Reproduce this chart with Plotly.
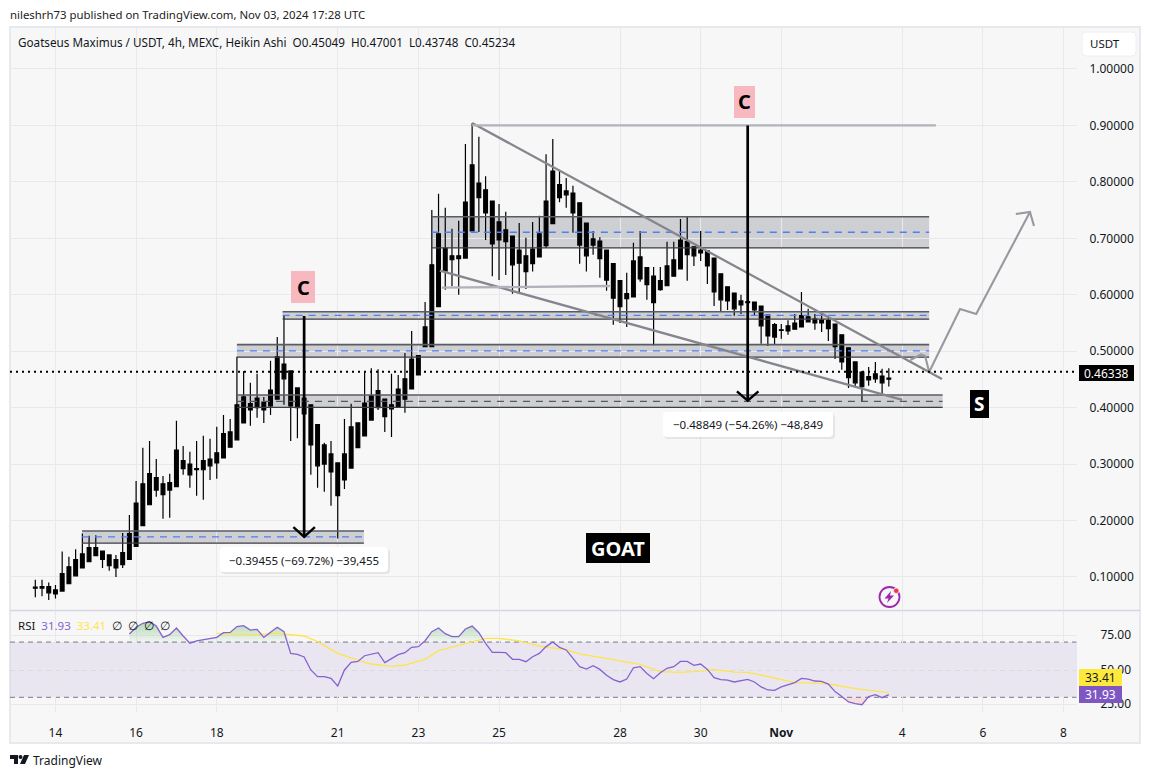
import pandas as pd
import plotly.graph_objects as go

# ---------- candle data (Heikin Ashi, all drawn black) ----------
highs = [.095,.095,.090,.086,.145,.136,.149,.177,.173,.174,
 .146,.139,.139,.178,.210,.270,.329,.341,.309,.279,
 .283,.377,.332,.322,.341,.350,.345,.366,.387,.380,
 .490,.465,.444,.460,.419,.483,.525,.564,.465,.435,
 .435,.405,.370,.338,.341,.302,.380,.407,.373,.465,
 .470,.468,.415,.460,.458,.497,.536,.492,.587,.750,
 .779,.754,.717,.731,.867,.904,.880,.810,.766,.761,
 .747,.704,.727,.701,.729,.740,.849,.876,.821,.807,
 .793,.763,.727,.713,.702,.679,.655,.625,.639,.692,
 .713,.648,.649,.649,.694,.694,.734,.738,.685,.713,
 .678,.665,.637,.614,.603,.600,.600,.587,.580,.564,
 .550,.548,.555,.566,.605,.575,.566,.568,.563,.548,
 .529,.506,.481,.465,.472,.481,.469,.47001]
closes = [.082,.083,.083,.077,.106,.118,.131,.141,.152,.152,
 .146,.139,.131,.143,.177,.231,.265,.283,.276,.265,
 .267,.325,.306,.300,.292,.306,.309,.320,.354,.357,
 .405,.419,.407,.417,.410,.431,.490,.477,.465,.435,
 .417,.405,.370,.334,.318,.302,.318,.366,.373,.408,
 .421,.430,.415,.405,.433,.451,.486,.492,.543,.653,
 .708,.682,.669,.669,.764,.830,.798,.786,.766,.729,
 .715,.704,.679,.669,.681,.708,.766,.819,.795,.784,
 .780,.763,.727,.699,.695,.679,.655,.625,.602,.660,
 .667,.648,.633,.625,.651,.662,.697,.694,.685,.679,
 .678,.665,.637,.614,.603,.589,.588,.587,.580,.564,
 .547,.538,.545,.550,.563,.561,.557,.555,.554,.548,
 .529,.506,.481,.463,.455,.460,.456,.45234]
opens = [.080,.080,.072,.070,.075,.088,.102,.116,.127,.138,
 .131,.120,.116,.122,.131,.154,.191,.228,.254,.246,
 .254,.260,.292,.281,.290,.290,.297,.302,.311,.330,
 .343,.373,.396,.400,.396,.403,.415,.451,.403,.400,
 .389,.334,.297,.300,.286,.244,.272,.293,.329,.350,
 .378,.400,.384,.398,.401,.415,.433,.458,.508,.508,
 .579,.642,.662,.664,.665,.713,.772,.745,.690,.697,
 .694,.653,.656,.641,.655,.667,.687,.726,.772,.777,
 .745,.688,.669,.688,.664,.626,.594,.579,.593,.596,
 .628,.618,.586,.609,.616,.633,.646,.671,.669,.674,
 .651,.605,.591,.589,.575,.582,.586,.573,.545,.527,
 .525,.537,.536,.539,.543,.552,.550,.550,.540,.508,
 .481,.453,.444,.437,.449,.451,.444,.45049]
lows = [.064,.066,.059,.062,.075,.088,.102,.116,.127,.138,
 .116,.111,.100,.116,.131,.154,.191,.228,.242,.203,
 .205,.260,.281,.258,.244,.237,.272,.274,.311,.330,
 .343,.373,.368,.382,.373,.387,.415,.405,.341,.346,
 .389,.281,.258,.251,.226,.168,.256,.293,.329,.350,
 .378,.396,.357,.348,.401,.391,.433,.458,.508,.508,
 .579,.609,.615,.600,.665,.713,.711,.697,.633,.626,
 .635,.602,.605,.610,.641,.667,.683,.726,.764,.754,
 .710,.655,.641,.671,.630,.607,.547,.550,.543,.596,
 .623,.591,.510,.607,.616,.633,.646,.625,.651,.660,
 .619,.580,.571,.573,.563,.566,.567,.563,.513,.509,
 .511,.522,.529,.538,.543,.552,.538,.534,.518,.486,
 .467,.435,.437,.410,.439,.444,.423,.43748]

# ---------- RSI (starts at bar 14) ----------
rsi_start = 14
rsi_values = [75.8,80.7,83.6,84.8,81.6,73.4,75.4,80.2,74.4,69.1,70.8,71.7,72.2,73.4,76.8,77,81.2,81.9,78.7,79.2,
 73.4,76.8,80.7,77.5,61.8,61.1,59.2,49.8,44.9,44.9,43.7,38.2,49.8,55.3,56,60.1,61.4,62.3,55.1,58,
 60.9,62.3,66.2,66.7,71,77.5,80.2,76.1,73.9,73.9,79.5,81.6,76.8,69.1,62.6,62.6,62.3,57.5,57.5,55.8,
 59.4,61.8,66.7,70,66.2,64.3,58.2,52.2,
 50.5,52.9,50.2,45.9,42.8,41.1,43.2,51.4,52.2,47.3,43.5,47.8,51,52.2,56,56,53.1,54.1,50.2,44.2,42.8,
 42.5,41.1,41.8,43,41.1,37.5,35.3,35,37.5,38.9,40.6,43.7,43.2,41.8,41.5,39.6,34.1,30.5,26.6,25.4,24.6,
 30.5,31.9,29.7,31.93]
rsi_ma_bars = [27,30,33,36,40,42,45,48,50,53,55,58,60,63,67,69,72,75,77,79,81,
 82,87,90,93,96,99,101,104,106,108,111,113,117,119,122,127]
rsi_ma_values = [76.3,75.6,75.4,76.3,74.4,70.3,61.8,57,54.1,52.4,53.4,57.5,63.8,67.6,72.7,72.7,70.8,67.1,65.9,64.3,61.4,
 60.6,56.5,53.9,48.6,48.1,49,50,48.3,48.1,46.1,42.5,40.6,40.3,38.9,36.2,33.41]

# ---------- drawings (bar number, price) ----------
wedge_top_bars, wedge_top_prices = [65, 134.9], [.9043, .4508]
wedge_low_bars, wedge_low_prices = [60.2, 129], [.6427, .4136]
top_level_bars, top_level_prices = [65, 134], [.9, .9]
mid_level_bars, mid_level_prices = [60.5, 85.5], [.6125, .6155]
path_bars, path_prices = [130.2,131.8,132.4,133,137.6,140,148], [.4844,.4942,.4915,.4632,.5748,.5659,.7466]
head_bars, head_prices = [145.9,148,148.6], [.7431,.7466,.7218]
arrow1_bars, arrow1_prices = [40, 40], [.5624, .171]
arrow1_head_bars, arrow1_head_prices = [38.4,40,41.6], [.1885,.171,.1885]
arrow2_bars, arrow2_prices = [106, 106], [.9, .4122]
arrow2_head_bars, arrow2_head_prices = [104.4,106,107.6], [.429,.4122,.429]

# zone: start bar, end bar, low price, high price, mid price, mid colour
zone_starts = [6.95, 30, 36.8, 30, 59]
zone_ends   = [48.9, 133, 133, 135, 133]
zone_lows   = [.160, .4895, .557, .4006, .6829]
zone_highs  = [.1815, .5116, .570, .4224, .7383]
zone_mids   = [.171, .5005, .5636, .411, .7107]
zone_mid_colors = ["#4f7ff0","#4f7ff0","#4f7ff0","#55585f","#4f7ff0"]

last_price = .46338
price_ticks = [.1,.2,.3,.4,.5,.6,.7,.8,.9,1.0]
rsi_ticks = [25,50,75]
date_ticks = ["2024-10-14","2024-10-16","2024-10-18","2024-10-21","2024-10-23","2024-10-25","2024-10-28",
              "2024-10-30","2024-11-01","2024-11-04","2024-11-06","2024-11-08"]
date_labels = ["14","16","18","21","23","25","28","30","<b>Nov</b>","4","6","8"]

# ---------- helpers ----------
W, H = 1150, 777
FONT = "Noto Sans"
t0 = pd.Timestamp("2024-10-13 12:00")
def bar_time(b):
    return t0 + pd.Timedelta(hours=4 * b)
def to_times(bs):
    return [bar_time(b) for b in bs]
def X(px): return px / W
def Y(py): return 1 - py / H

dates = to_times(range(len(closes)))
fig = go.Figure()
fig.add_trace(go.Candlestick(
    x=dates, open=opens, high=highs, low=lows, close=closes, xaxis="x", yaxis="y",
    increasing=dict(line=dict(color="#000000", width=1.2), fillcolor="#000000"),
    decreasing=dict(line=dict(color="#000000", width=1.2), fillcolor="#000000"),
    hoverinfo="skip", showlegend=False))

def line(bs, ps, color, width, dash="solid"):
    fig.add_trace(go.Scatter(x=to_times(bs), y=ps, mode="lines", xaxis="x", yaxis="y",
                             line=dict(color=color, width=width, dash=dash),
                             hoverinfo="skip", showlegend=False))

shapes = []
# frame
shapes.append(dict(type="rect", xref="paper", yref="paper", x0=X(10), x1=X(1140), y0=Y(743), y1=Y(27),
                   fillcolor="#f7f7f7", line=dict(color="#e8e9ef", width=2), layer="below"))
shapes.append(dict(type="line", xref="paper", yref="paper", x0=X(10), x1=X(1140), y0=Y(610.5), y1=Y(610.5),
                   line=dict(color="#d4d7e2", width=1.5), layer="below"))
# zones
for s, e, lo, hi in zip(zone_starts, zone_ends, zone_lows, zone_highs):
    shapes.append(dict(type="rect", xref="x", yref="y", x0=bar_time(s), x1=bar_time(e), y0=lo, y1=hi,
                       fillcolor="rgba(120,123,134,0.32)", line=dict(width=0), layer="below"))
# RSI band
shapes.append(dict(type="rect", xref="x2 domain", yref="y2", x0=0, x1=1, y0=30, y1=70,
                   fillcolor="rgba(126,87,194,0.10)", line=dict(width=0), layer="below"))
for lvl in (70, 50, 30):
    shapes.append(dict(type="line", xref="x2 domain", yref="y2", x0=0, x1=0.9995, y0=lvl, y1=lvl,
                       line=dict(color="#787b86" if lvl != 50 else "#9a9ca5", width=1, dash="5px,4px"), layer="below"))
# zone edges + middle lines
for s, e, lo, hi, mid, col in zip(zone_starts, zone_ends, zone_lows, zone_highs, zone_mids, zone_mid_colors):
    line([s, e], [hi, hi], "#5a5c63", 1.6)
    line([s, e], [lo, lo], "#3c3d42", 1.2)
    line([s, e], [mid, mid], col, 1.3, "7px,6px")

# last price
shapes.append(dict(type="line", xref="x domain", yref="y", x0=0, x1=1, y0=last_price, y1=last_price,
                   line=dict(color="#000000", width=2, dash="2px,4px")))

# drawings
grey = "#85868d"
line(wedge_top_bars, wedge_top_prices, grey, 2.3)
line(wedge_low_bars, wedge_low_prices, grey, 2.3)
line(top_level_bars, top_level_prices, "#b2b3ba", 2.3)
line(mid_level_bars, mid_level_prices, "#b2b3ba", 2.3)
line(path_bars, path_prices, "#9799a0", 2.1)
line(head_bars, head_prices, "#9799a0", 2.1)
line(arrow1_bars, arrow1_prices, "#000000", 2.7)
line(arrow1_head_bars, arrow1_head_prices, "#000000", 2.4)
line(arrow2_bars, arrow2_prices, "#000000", 2.7)
line(arrow2_head_bars, arrow2_head_prices, "#000000", 2.4)

# RSI traces
rsi_bars = list(range(rsi_start, rsi_start + len(rsi_values)))
rsi_times = to_times(rsi_bars)
fig.add_trace(go.Scatter(x=rsi_times, y=[70] * len(rsi_values), mode="lines", line=dict(width=0),
                         xaxis="x2", yaxis="y2", hoverinfo="skip", showlegend=False))
fig.add_trace(go.Scatter(x=rsi_times, y=[max(v, 70) for v in rsi_values], mode="lines", line=dict(width=0),
                         fill="tonexty", xaxis="x2", yaxis="y2", hoverinfo="skip", showlegend=False,
                         fillgradient=dict(type="vertical", start=85, stop=70,
                                           colorscale=[[0, "rgba(76,175,80,0.42)"], [1, "rgba(76,175,80,0.03)"]])))
fig.add_trace(go.Scatter(x=rsi_times, y=[30] * len(rsi_values), mode="lines", line=dict(width=0),
                         xaxis="x2", yaxis="y2", hoverinfo="skip", showlegend=False))
fig.add_trace(go.Scatter(x=rsi_times, y=[min(v, 30) for v in rsi_values], mode="lines", line=dict(width=0),
                         fill="tonexty", fillcolor="rgba(242,54,69,0.13)", xaxis="x2", yaxis="y2",
                         hoverinfo="skip", showlegend=False))
fig.add_trace(go.Scatter(x=to_times(rsi_ma_bars), y=rsi_ma_values, mode="lines", xaxis="x2", yaxis="y2",
                         line=dict(color="#fde54a", width=1.3), hoverinfo="skip", showlegend=False))
fig.add_trace(go.Scatter(x=rsi_times, y=rsi_values, mode="lines", xaxis="x2", yaxis="y2",
                         line=dict(color="#8662cf", width=1.3), hoverinfo="skip", showlegend=False))

annotations = []
def text(px, py, s, size=12, color="#131722", anchor="left", vanchor="middle", **kw):
    annotations.append(dict(xref="paper", yref="paper", x=X(px), y=Y(py), text=s, showarrow=False,
                            xanchor=anchor, yanchor=vanchor, align=anchor,
                            font=dict(family=FONT, size=size, color=color), **kw))
def box(x0, y0, x1, y1, fill, s, size, color, bold=False, border=None):
    shapes.append(dict(type="rect", xref="paper", yref="paper", x0=X(x0), x1=X(x1), y0=Y(y1), y1=Y(y0),
                       fillcolor=fill, line=dict(width=0 if border is None else 1, color=border or fill)))
    text((x0 + x1) / 2, (y0 + y1) / 2, f"<b>{s}</b>" if bold else s, size, color, "center")
def rounded(x0, y0, x1, y1, r, fill, line_color=None):
    fx, fy = X, Y
    p = (f"M {fx(x0+r)},{fy(y0)} L {fx(x1-r)},{fy(y0)} Q {fx(x1)},{fy(y0)} {fx(x1)},{fy(y0+r)} "
         f"L {fx(x1)},{fy(y1-r)} Q {fx(x1)},{fy(y1)} {fx(x1-r)},{fy(y1)} L {fx(x0+r)},{fy(y1)} "
         f"Q {fx(x0)},{fy(y1)} {fx(x0)},{fy(y1-r)} L {fx(x0)},{fy(y0+r)} Q {fx(x0)},{fy(y0)} {fx(x0+r)},{fy(y0)} Z")
    shapes.append(dict(type="path", xref="paper", yref="paper", path=p, fillcolor=fill,
                       line=dict(width=0 if line_color is None else 1, color=line_color or fill)))

# header and legend
text(8, 14, "nileshrh73 published on TradingView.com, Nov 03, 2024 17:28 UTC", 11.4, "#222222")
text(16, 42, "Goatseus Maximus / USDT, 4h, MEXC, Heikin Ashi&nbsp;&nbsp;O0.45049&nbsp;&nbsp;H0.47001&nbsp;&nbsp;L0.43748&nbsp;&nbsp;C0.45234", 11.7, "#131722")
text(16, 625, "RSI&nbsp;&nbsp;<span style='color:#8662cf'>31.93</span>&nbsp;&nbsp;<span style='color:#fde54a'>33.41</span>&nbsp;&nbsp;∅&nbsp;&nbsp;∅&nbsp;&nbsp;∅&nbsp;&nbsp;∅", 11.5)

# USDT button
rounded(1082, 32, 1136, 56, 4, "#ffffff", "#eceef3")
text(1105, 44, "USDT", 11.5, "#131722", "center")

# badges
box(291, 271, 315, 303, "#f7b8c0", "C", 20, "#000000", bold=True)
box(734, 86, 755, 118, "#f7b8c0", "C", 20, "#000000", bold=True)
box(970, 390, 989, 418, "#000000", "S", 19, "#ffffff", bold=True)
box(586, 533, 650, 563, "#000000", "GOAT", 20, "#ffffff", bold=True)

# measure labels
rounded(221, 549, 390, 574, 4, "rgba(0,0,0,0.07)")
rounded(220, 547, 388, 572, 4, "#ffffff")
text(304, 560, "−0.39455 (−69.72%) −39,455", 11.5, "#131722", "center")
rounded(664, 414, 835, 439, 4, "rgba(0,0,0,0.07)")
rounded(663, 412, 833, 437, 4, "#ffffff")
text(748, 424.5, "−0.48849 (−54.26%) −48,849", 11.5, "#131722", "center")

# price and RSI tags
box(1079, 365, 1134, 381, "#000000", "0.46338", 12, "#ffffff")
box(1079, 669, 1122, 686, "#fde93b", "33.41", 12, "#131722")
box(1079, 686, 1122, 703, "#7e57c2", "31.93", 12, "#ffffff")

# bolt icon
shapes.append(dict(type="circle", xref="paper", yref="paper", x0=X(879.5), x1=X(899.5), y0=Y(607), y1=Y(587),
                   line=dict(color="#9c27b0", width=1.8), fillcolor="rgba(0,0,0,0)"))
shapes.append(dict(type="path", xref="paper", yref="paper", fillcolor="#9c27b0", line=dict(width=0),
                   path=f"M {X(891)},{Y(591)} L {X(884.5)},{Y(598.5)} L {X(888.5)},{Y(598.5)} L {X(887)},{Y(603)} "
                        f"L {X(894)},{Y(595.5)} L {X(890)},{Y(595.5)} Z"))
shapes.append(dict(type="circle", xref="paper", yref="paper", x0=X(893.5), x1=X(899), y0=Y(593.5), y1=Y(588),
                   line=dict(color="#f7f7f7", width=0.8), fillcolor="#f23645"))

# TradingView logo
shapes.append(dict(type="path", xref="paper", yref="paper", fillcolor="#131722", line=dict(width=0),
                   path=f"M {X(10)},{Y(755)} L {X(18)},{Y(755)} L {X(18)},{Y(764)} L {X(14)},{Y(764)} L {X(14)},{Y(759)} L {X(10)},{Y(759)} Z"))
shapes.append(dict(type="circle", xref="paper", yref="paper", fillcolor="#131722", line=dict(width=0),
                   x0=X(18.5), x1=X(22.5), y0=Y(759), y1=Y(755)))
shapes.append(dict(type="path", xref="paper", yref="paper", fillcolor="#131722", line=dict(width=0),
                   path=f"M {X(24)},{Y(755)} L {X(29)},{Y(755)} L {X(25)},{Y(764)} L {X(20)},{Y(764)} Z"))
text(31, 760, "TradingView", 12, "#131722")

xrange = [bar_time(-3.765), bar_time(155)]
grid = "#e9e9eb"
common_x = dict(type="date", range=xrange, tickmode="array", tickvals=date_ticks, ticktext=date_labels,
                showgrid=True, gridcolor=grid, gridwidth=1, zeroline=False, showline=False,
                rangeslider=dict(visible=False), domain=[X(10), X(1077)])
fig.update_layout(
    width=W, height=H, margin=dict(l=0, r=0, t=0, b=0), autosize=False,
    paper_bgcolor="#ffffff", plot_bgcolor="rgba(0,0,0,0)", showlegend=False, hovermode=False,
    boxgap=0.2, boxgroupgap=0.3,
    font=dict(family=FONT, size=12, color="#131722"),
    xaxis=dict(**common_x, anchor="y", showticklabels=False, ticks=""),
    xaxis2=dict(**common_x, anchor="y2", matches="x", showticklabels=True, ticks="outside", ticklen=10,
                tickcolor="rgba(0,0,0,0)", tickfont=dict(family=FONT, size=12, color="#131722")),
    yaxis=dict(domain=[Y(610), Y(28)], range=[.0415, 1.0726], side="right", anchor="x", tickmode="array",
               tickvals=price_ticks, tickformat=".5f", showgrid=True, gridcolor=grid, zeroline=False,
               ticks="outside", ticklen=9, tickcolor="rgba(0,0,0,0)", tickfont=dict(family=FONT, size=12, color="#131722")),
    yaxis2=dict(domain=[Y(712), Y(611)], range=[19.35, 92.5], side="right", anchor="x2", tickmode="array",
                tickvals=rsi_ticks, tickformat=".2f", showgrid=True, gridcolor=grid, zeroline=False,
                ticks="outside", ticklen=20, tickcolor="rgba(0,0,0,0)", tickfont=dict(family=FONT, size=12, color="#131722")),
    shapes=shapes, annotations=annotations,
)
fig.write_html("out.html", config=dict(displayModeBar=False),
               post_script="document.body.style.margin='0';")
